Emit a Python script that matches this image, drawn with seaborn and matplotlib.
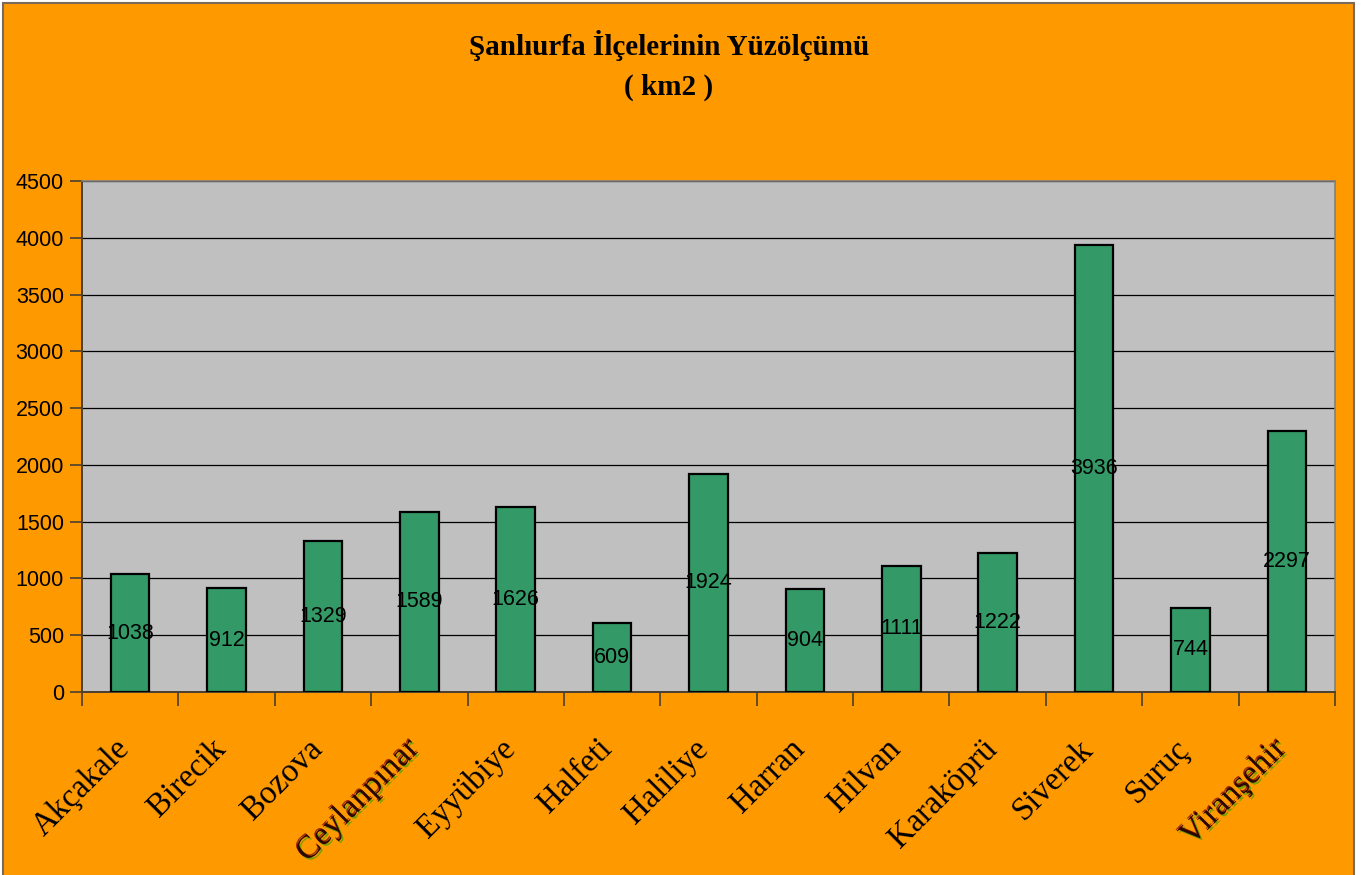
import matplotlib
matplotlib.use("Agg")
import matplotlib.pyplot as plt
import matplotlib.patheffects as pe
import matplotlib.transforms as mtransforms
from matplotlib.patches import Rectangle
from matplotlib.ticker import MultipleLocator
import seaborn as sns
import pandas as pd

# --- Data ---
districts = ["Akçakale", "Birecik", "Bozova", "Ceylanpınar", "Eyyübiye", "Halfeti",
             "Haliliye", "Harran", "Hilvan", "Karaköprü", "Siverek", "Suruç", "Viranşehir"]
areas_km2 = [1038, 912, 1329, 1589, 1626, 609, 1924, 904, 1111, 1222, 3936, 744, 2297]
shadow_labels = ["Ceylanpınar", "Viranşehir"]
title_text = "Şanlıurfa İlçelerinin Yüzölçümü\n( km2 )"
y_max = 4500

ORANGE = "#FF9900"
PLOT_GREY = "#C0C0C0"
BAR_GREEN = "#339966"

sns.set_style("ticks")
plt.rcParams["font.family"] = ["Liberation Sans", "DejaVu Sans"]
plt.rcParams["text.color"] = "black"
plt.rcParams["xtick.color"] = "black"
plt.rcParams["ytick.color"] = "black"

df = pd.DataFrame({"district": districts, "area": areas_km2})

fig = plt.figure(figsize=(13.65, 8.75), dpi=100, facecolor="white")
# orange chart background with a thin frame
fig.patches.append(Rectangle((3 / 1365, -0.01), 1351 / 1365, 1.01 - 3 / 875,
                             transform=fig.transFigure, facecolor=ORANGE,
                             edgecolor="#7a6a5a", linewidth=1.5, zorder=-5))

ax = fig.add_axes([82 / 1365, 1 - 692 / 875, 1253 / 1365, 511 / 875])
ax.set_zorder(1)
ax.set_facecolor(PLOT_GREY)

sns.barplot(data=df, x="district", y="area", color=BAR_GREEN, saturation=1,
            edgecolor="black", linewidth=1.6, width=0.4, ax=ax, zorder=3)

ax.set_ylim(0, y_max)
ax.set_xlim(-0.5, len(districts) - 0.5)
ax.yaxis.set_major_locator(MultipleLocator(500))
ax.grid(axis="y", color="black", linewidth=0.9, zorder=1)
ax.set_axisbelow(True)
ax.set_xlabel("")
ax.set_ylabel("")

# value labels in the middle of each bar
for cont in ax.containers:
    ax.bar_label(cont, labels=[str(v) for v in areas_km2], label_type="center",
                 fontsize=15.5, color="black", zorder=4)

# spines
for side in ["top", "right"]:
    ax.spines[side].set_visible(True)
    ax.spines[side].set_color("#808080")
    ax.spines[side].set_linewidth(1.2)
for side in ["left", "bottom"]:
    ax.spines[side].set_color("#4a4030")
    ax.spines[side].set_linewidth(1.4)

# y ticks
ax.tick_params(axis="y", direction="out", length=9, width=1.2, color="#4a4030",
               labelsize=15.5, pad=4, labelcolor="black")
# x ticks: marks at category boundaries, labels at centers
ax.set_xticks(range(len(districts)))
ax.set_xticks([i - 0.5 for i in range(len(districts) + 1)], minor=True)
ax.tick_params(axis="x", which="major", length=0, pad=30, labelcolor="black")
ax.tick_params(axis="x", which="minor", direction="out", length=10, width=1.2,
               color="#4a4030")
ax.set_xticklabels(districts, rotation=45, ha="right", va="top",
                   rotation_mode="anchor", fontsize=23.5,
                   fontfamily=["Liberation Serif", "DejaVu Serif"])
shift = mtransforms.ScaledTranslation(-16 / 100, 0, fig.dpi_scale_trans)
for lbl in ax.get_xticklabels():
    lbl.set_transform(lbl.get_transform() + shift)
    if lbl.get_text() in shadow_labels:
        lbl.set_color("#2a0800")
        lbl.set_path_effects([
            pe.SimplePatchShadow(offset=(1.3, -1.3), shadow_rgbFace="#6fa000", alpha=0.9),
            pe.SimplePatchShadow(offset=(-0.9, 0.9), shadow_rgbFace="#8b1000", alpha=0.8),
            pe.Normal()])

fig.text(0.49, 1 - 30 / 875, title_text, ha="center", va="top", fontsize=21,
         fontweight="bold", linespacing=1.6, color="black",
         fontfamily=["Liberation Serif", "DejaVu Serif"])

fig.savefig("out.png", dpi=100, facecolor=fig.get_facecolor())
